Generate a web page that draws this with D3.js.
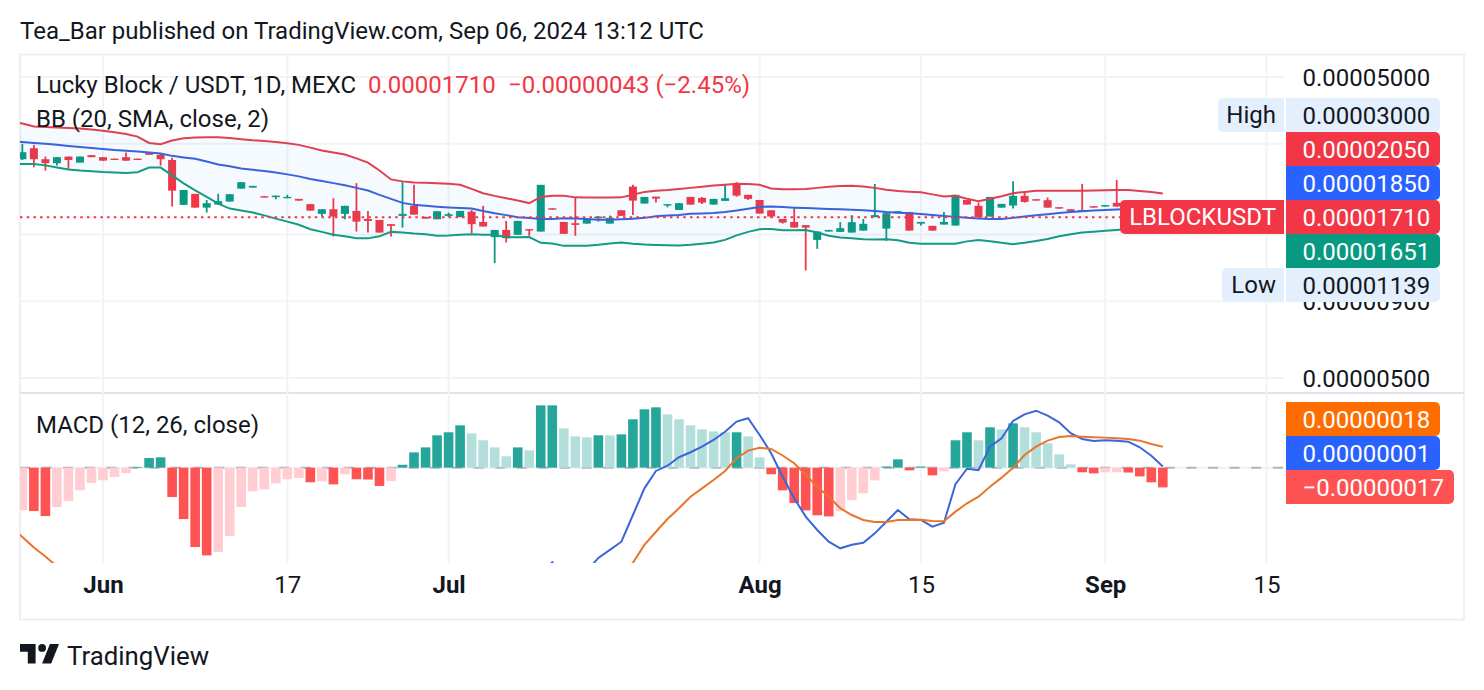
<!DOCTYPE html>
<html>
<head>
<meta charset="utf-8">
<script src="https://cdn.jsdelivr.net/npm/d3@7"></script>
<style>
html,body{margin:0;padding:0;background:#fff}
svg{display:block}
text{font-family:Roboto,sans-serif;fill:#131722}
</style>
</head>
<body>
<svg id="chart" width="1484" height="690"></svg>
<script>
// Prices are held in units of 0.00000001 USDT. One row per daily bar, from 25 May to 6 Sep 2024.
const opens = [2666,2900,2666,2586,2720,2597,2750,2708,2678,2708,2678,2792,2756,2650,1880,2045,1841,1884,1928,2129,2146,2009,1994,1978,1968,1890,1755,1818,1755,1795,1688,1675,1622,1728,1866,1715,1684,1728,1711,1785,1650,1469,1552,1495,1561,1533,1832,1650,1634,1629,1697,1629,1804,2162,1899,2002,1870,1808,1998,1983,1884,1938,2191,2030,1952,1804,1688,1650,1610,1438,1533,1529,1521,1544,1711,1568,1764,1781,1629,1601,1617,1605,1952,1866,1719,1841,1870,2014,1963,1948,1847,1818,1808,1861,1856,1909,1810,1800,1790,1753];
const highs = [3000,2975,2720,2708,2720,2720,2750,2708,2678,2804,2678,2792,2792,2697,2107,2045,1952,2045,2040,2236,2174,2009,2018,2030,1968,1890,1818,1978,1866,2220,1795,1675,1622,2246,2191,1715,1791,1772,1795,1808,1866,1552,1663,1663,1561,2191,1832,1650,1988,1688,1728,1732,1804,2191,1998,2002,1890,1904,1998,1998,1968,2191,2236,2030,1952,1804,1688,1832,1610,1533,1552,1647,1738,1688,2208,1764,1791,1781,1650,1601,1781,2030,1952,1913,1998,1894,2253,2081,1963,1988,1847,1818,2208,1861,1876,2275,1815,1805,1800,1790];
const lows = [2650,2508,2442,2539,2455,2597,2708,2636,2650,2636,2650,2756,2539,1856,1880,1841,1772,1884,1928,2129,2146,1988,1963,1978,1942,1799,1719,1476,1684,1533,1521,1521,1476,1580,1745,1692,1684,1711,1711,1514,1593,1204,1410,1495,1484,1533,1812,1506,1484,1629,1654,1629,1728,1741,1899,1913,1846,1808,1884,1894,1884,1938,2002,1952,1759,1706,1629,1580,1139,1343,1533,1529,1521,1544,1711,1427,1764,1544,1605,1544,1617,1605,1884,1711,1719,1841,1827,1913,1942,1841,1827,1791,1791,1841,1856,1856,1795,1785,1745,1700];
const closes = [2813,2666,2586,2708,2650,2720,2708,2636,2650,2636,2650,2756,2666,2096,2107,1841,1904,1933,2040,2236,2174,1988,2018,1998,1942,1799,1818,1719,1866,1654,1663,1521,1601,1755,1745,1692,1791,1751,1795,1622,1593,1552,1457,1663,1544,2191,1812,1506,1613,1688,1719,1702,1728,1942,1998,1972,1890,1904,1884,1913,1968,1978,2018,1968,1759,1719,1642,1580,1580,1533,1552,1573,1647,1626,1738,1764,1791,1544,1650,1544,1650,2030,1884,1711,1998,1894,2014,1923,1942,1841,1827,1791,1791,1841,1876,1856,1800,1790,1753,1710];

// Bollinger Bands; each list opens one bar before the first candle.
const bbUpper = [3571,3505,3426,3413,3399,3386,3373,3346,3316,3277,3235,3169,3020,2991,3077,3130,3149,3154,3154,3137,3108,3083,3065,3043,3011,2975,2913,2848,2808,2762,2682,2597,2446,2284,2250,2230,2225,2220,2208,2191,2124,2056,2014,1978,1945,1906,1998,2014,2014,1991,1988,1988,1988,1991,2030,2076,2095,2107,2124,2141,2161,2179,2194,2208,2204,2191,2132,2120,2119,2124,2141,2161,2171,2174,2162,2141,2110,2092,2079,2070,2037,2003,2017,1971,1933,1971,2009,2056,2076,2096,2096,2096,2096,2096,2099,2102,2107,2107,2092,2073,2050];
const bbBasis = [3065,3043,3020,2998,2975,2952,2929,2907,2884,2861,2844,2827,2808,2783,2735,2703,2676,2621,2562,2527,2484,2459,2437,2410,2374,2338,2293,2258,2220,2183,2141,2099,2030,1968,1909,1880,1866,1854,1844,1837,1828,1795,1764,1738,1711,1699,1688,1688,1696,1695,1688,1678,1678,1684,1691,1702,1722,1734,1741,1755,1761,1768,1781,1801,1825,1851,1856,1848,1840,1834,1828,1822,1817,1811,1804,1795,1781,1771,1764,1752,1741,1728,1715,1704,1695,1688,1688,1702,1719,1735,1751,1768,1779,1789,1801,1808,1814,1822,1828,1837,1850];
const bbLower = [2572,2572,2568,2543,2504,2465,2446,2433,2419,2410,2397,2414,2500,2500,2356,2216,2099,1998,1899,1827,1801,1772,1735,1692,1654,1614,1561,1529,1495,1478,1457,1455,1478,1529,1521,1509,1501,1484,1487,1497,1502,1495,1495,1467,1467,1469,1406,1400,1374,1374,1374,1385,1399,1409,1396,1388,1383,1380,1378,1385,1396,1409,1438,1489,1529,1561,1564,1547,1547,1552,1521,1484,1464,1455,1446,1443,1446,1433,1406,1396,1396,1396,1396,1422,1438,1424,1406,1392,1406,1427,1449,1478,1501,1521,1531,1541,1552,1564,1577,1614,1651];

// MACD histogram and lines in the same price unit; the two line lists also open one bar early.
const macdHist = [-36.8,-37.4,-41.7,-33.9,-28.7,-19.5,-13.2,-10.9,-8,-4.6,0.6,8.3,8.9,-25.3,-44.3,-68.4,-75.6,-72.7,-58.9,-33.9,-20.4,-18.7,-13.5,-10,-8.9,-12.6,-11.8,-14.4,-5.7,-10,-10.2,-15.8,-11.6,2.5,13.2,17.5,27.9,30.5,36.5,29.6,23.6,17.5,9.8,17.5,14.9,53.7,53.7,33.9,27,26.1,27.9,27.8,28.7,41.7,50.3,52,46,41.7,36.5,33,31.3,30.5,30.5,27,8.9,-5.7,-19.5,-30.5,-36.8,-41,-42,-37.6,-28,-22,-11,1,7.2,-2.3,1,-6.6,-3.2,23.6,30.5,23.6,34.8,33,38.2,34.8,30.5,21,11.5,2.9,-4,-4.9,-4,-3.9,-4.2,-7.5,-12.6,-17];
const macdLine = [-90,-96.5,-106,-118,-119,-119,-114,-109,-109,-108,-106,-101,-93,-91,-128,-154,-188,-211,-223,-222,-204,-195,-199,-197,-196,-197,-203,-204,-208,-201,-206,-207,-215,-212,-197,-183,-175,-158,-148,-134,-133,-133,-134,-139,-128,-128,-92,-81.5,-94,-94,-89,-77.8,-70.9,-63.8,-40.8,-17.8,-2.8,1.7,9,13.3,18.1,23.9,31,39.7,42.6,28.2,12.4,-7.8,-26.4,-42.2,-53.7,-63.8,-69.5,-66.4,-64.7,-56.6,-46.6,-36.5,-44.5,-45.1,-50.9,-47.4,-14.3,-0.9,-2.2,18.1,25.3,40.3,46,49.1,44.8,39.1,29.7,24.7,23,23.6,23.3,22.4,17.6,10.3,1];
const macdSignal = [-51,-59.7,-68.8,-76.6,-85,-90,-94,-96,-98,-100,-101,-102,-101,-100,-103,-110,-120,-135,-150,-163,-170,-175,-180,-183,-186,-188,-190,-192,-194,-195,-196,-197,-199,-200,-199,-196,-192,-186,-179,-171,-163,-157,-152,-149,-146,-143,-146,-135,-128,-121,-115,-106,-99,-92,-82,-66.6,-55.2,-44.2,-35,-25,-17.8,-10.6,-2.8,8.1,14.7,17.2,16.1,10.5,3.8,-6.3,-16.4,-25,-35,-40.8,-45.1,-46.8,-46.8,-45.1,-45.1,-44.8,-45.9,-46.2,-37.9,-30.7,-25,-16.4,-8.6,0,10.9,18.1,23.3,26.5,27.3,26.7,26.2,25.9,25.3,24.7,23.3,20.4,18];

// Axis ticks
const priceGrid = [5000,3000,1500,900,500];
const priceTicks = [5000,900,500];
const timeTickBars = [7,23,37,64,78,94,108];
const timeTickLabels = ["Jun","17","Jul","Aug","15","Sep","15"];
const boldTimeTicks = ["Jun","Jul","Aug","Sep"];
const sessionHigh = 3000, sessionLow = 1139;

const UNIT = 1e8;
const fmt = v => (v < 0 ? "\u2212" : "") + (Math.abs(v) / UNIT).toFixed(8);

const colors = {
  up:"#089981", down:"#F23645", basis:"#2962FF", orange:"#FF6D00",
  lineUpper:"#E0404F", lineBasis:"#3A62DB", lineLower:"#159A84", lineMacd:"#3A66D8", lineSignal:"#E9752A",
  grid:"#F2F3F5", border:"#EEEFF2", divider:"#E0E3EB", tag:"#E3EFFD", text:"#131722",
  histUp:"#26A69A", histUpLight:"#B2DFDB", histDown:"#FF5252", histDownLight:"#FFCDD2"
};

const pane = {left:20, right:1284, top:55, priceBottom:392, macdTop:395, macdBottom:563};

const x = d3.scaleLinear().domain([7,108]).range([103,1266.5]);
const y = d3.scaleLog().domain([5000,500]).range([77,378]);
const yMacd = d3.scaleLinear().domain([-82.16,63.5]).range([563,394]);

const svg = d3.select("#chart");
const defs = svg.append("defs");
defs.append("clipPath").attr("id","clipPrice").append("rect")
  .attr("x",pane.left).attr("y",pane.top).attr("width",pane.right-pane.left).attr("height",pane.priceBottom-pane.top);
defs.append("clipPath").attr("id","clipMacd").append("rect")
  .attr("x",pane.left).attr("y",pane.macdTop).attr("width",pane.right-pane.left).attr("height",pane.macdBottom-pane.macdTop);

// Header
svg.append("text").attr("x",20).attr("y",39).style("font-size","24px")
  .text("Tea_Bar published on TradingView.com, Sep 06, 2024 13:12 UTC");

// Frame and pane divider
svg.append("rect").attr("x",20).attr("y",54.5).attr("width",1444).attr("height",565)
  .attr("fill","none").attr("stroke",colors.border).attr("stroke-width",2);
svg.append("line").attr("x1",20).attr("x2",1464).attr("y1",393).attr("y2",393)
  .attr("stroke",colors.divider).attr("stroke-width",2);

// Grid
const grid = svg.append("g").attr("stroke",colors.grid).attr("stroke-width",2);
grid.selectAll(".v").data(timeTickBars).join("line")
  .attr("x1",d=>x(d)).attr("x2",d=>x(d)).attr("y1",pane.top).attr("y2",pane.macdBottom);
grid.selectAll(".h").data(priceGrid).join("line")
  .attr("x1",pane.left).attr("x2",pane.right).attr("y1",d=>y(d)).attr("y2",d=>y(d));

// Candles
const price = svg.append("g").attr("clip-path","url(#clipPrice)");
const candles = closes.map((c,i)=>({i,o:opens[i],h:highs[i],l:lows[i],c}));
const candleColor = d => d.c >= d.o ? colors.up : colors.down;
price.append("g").selectAll("line").data(candles).join("line")
  .attr("x1",d=>x(d.i)).attr("x2",d=>x(d.i))
  .attr("y1",d=>y(d.h)).attr("y2",d=>y(d.l))
  .attr("stroke",candleColor).attr("stroke-width",1.8);
price.append("g").selectAll("rect").data(candles).join("rect")
  .attr("x",d=>x(d.i)-4).attr("width",8)
  .attr("y",d=>y(Math.max(d.o,d.c)))
  .attr("height",d=>Math.max(1,Math.abs(y(d.o)-y(d.c))))
  .attr("fill",candleColor);

// Bollinger Bands
const bandIdx = bbUpper.map((_,k)=>k-1);
price.append("path").datum(bandIdx)
  .attr("fill","#2196F3").attr("fill-opacity",0.05)
  .attr("d",d3.area().x(i=>x(i)).y0(i=>y(bbUpper[i+1])).y1(i=>y(bbLower[i+1])));
[[bbUpper,colors.lineUpper],[bbBasis,colors.lineBasis],[bbLower,colors.lineLower]].forEach(([series,color])=>{
  price.append("path").datum(bandIdx).attr("fill","none").attr("stroke",color).attr("stroke-width",2)
    .attr("d",d3.line().x(i=>x(i)).y(i=>y(series[i+1])));
});

// Last price line
const lastClose = closes[closes.length-1], prevClose = closes[closes.length-2];
svg.append("line").attr("x1",pane.left).attr("x2",pane.right)
  .attr("y1",y(lastClose)).attr("y2",y(lastClose))
  .attr("stroke",colors.down).attr("stroke-width",2).attr("stroke-dasharray","2.5 4.2");

// MACD pane
const macd = svg.append("g").attr("clip-path","url(#clipMacd)");
macd.append("line").attr("x1",pane.left).attr("x2",pane.right)
  .attr("y1",yMacd(0)).attr("y2",yMacd(0)).attr("stroke","#F0F1F4").attr("stroke-width",2);
macd.append("line").attr("x1",pane.left).attr("x2",pane.right)
  .attr("y1",yMacd(0)).attr("y2",yMacd(0)).attr("stroke","#B2B5BE").attr("stroke-width",2).attr("stroke-dasharray","10 11.6");
const histColor = (v,i) => {
  if (i===0) return colors.histDownLight;
  const prev = macdHist[i-1];
  if (v>=0) return v>=prev ? colors.histUp : colors.histUpLight;
  return v<prev ? colors.histDown : colors.histDownLight;
};
macd.append("g").selectAll("rect").data(macdHist).join("rect")
  .attr("x",(v,i)=>x(i)-4.8).attr("width",9.6)
  .attr("y",v=>Math.min(yMacd(v),yMacd(0)))
  .attr("height",v=>Math.abs(yMacd(v)-yMacd(0)))
  .attr("fill",histColor);
[[macdLine,colors.lineMacd],[macdSignal,colors.lineSignal]].forEach(([series,color])=>{
  macd.append("path").datum(bandIdx).attr("fill","none").attr("stroke",color).attr("stroke-width",2)
    .attr("d",d3.line().x(i=>x(i)).y(i=>yMacd(series[i+1])));
});

// Price axis
const axisY = svg.append("g").attr("transform","translate(1302.5,1)")
  .call(d3.axisRight(y).tickValues(priceTicks).tickSize(0).tickPadding(0).tickFormat(fmt));
axisY.select(".domain").remove();
axisY.selectAll("text").style("font-size","24px").style("font-family","Roboto").attr("fill",colors.text);

// Time axis
const axisX = svg.append("g").attr("transform","translate(0,576)")
  .call(d3.axisBottom(x).tickValues(timeTickBars).tickSize(0).tickPadding(0)
    .tickFormat((d,i)=>timeTickLabels[i]));
axisX.select(".domain").remove();
axisX.selectAll("text").style("font-size","24px").style("font-family","Roboto")
  .style("font-weight",(d,i)=>boldTimeTicks.includes(timeTickLabels[i])?700:400).attr("fill",colors.text);

// Value tags on the price scale
const tagRight = (y0,h,w,color,label,textColor) => {
  const g = svg.append("g");
  g.append("path").attr("fill",color)
    .attr("d",`M1286 ${y0}H${1286+w-5}a5 5 0 0 1 5 5V${y0+h-5}a5 5 0 0 1 -5 5H1286Z`);
  g.append("text").attr("x",1302.5).attr("y",y0+h/2+8.5).style("font-size","24px").style("fill",textColor).text(label);
};
const tagLeft = (y0,h,xLeft,color,label,textColor) => {
  const g = svg.append("g");
  g.append("path").attr("fill",color)
    .attr("d",`M1284 ${y0}H${xLeft+5}a5 5 0 0 0 -5 5V${y0+h-5}a5 5 0 0 0 5 5H1284Z`);
  g.append("text").attr("x",1276).attr("text-anchor","end").attr("y",y0+h/2+8).style("font-size","24px").style("fill",textColor).text(label);
};
const last = a => a[a.length-1];
tagLeft(98,34,1218,colors.tag,"High",colors.text);
tagRight(98,34,154,colors.tag,fmt(sessionHigh),colors.text);
tagRight(132,34,154,colors.down,fmt(last(bbUpper)),"#fff");
tagRight(166,34,154,colors.basis,fmt(last(bbBasis)),"#fff");
tagLeft(200,34,1120,colors.down,"LBLOCKUSDT","#fff");
tagRight(200,34,154,colors.down,fmt(lastClose),"#fff");
tagRight(234,34,154,colors.up,fmt(last(bbLower)),"#fff");
tagLeft(268,34,1222,colors.tag,"Low",colors.text);
tagRight(268,34,154,colors.tag,fmt(sessionLow),colors.text);
tagRight(402,34,154,colors.orange,fmt(last(macdSignal)),"#fff");
tagRight(436,34,154,colors.basis,fmt(last(macdLine)),"#fff");
tagRight(470,34,168,colors.histDown,fmt(last(macdHist)),"#fff");

// Legends
const change = lastClose-prevClose;
const legend = svg.append("g").style("font-size","24px");
legend.append("text").attr("x",36).attr("y",93).text("Lucky Block / USDT, 1D, MEXC");
legend.append("text").attr("x",368).attr("y",93).style("fill",colors.down).text(fmt(lastClose));
legend.append("text").attr("x",508).attr("y",93).style("fill",colors.down)
  .text(`${fmt(change)} (\u2212${(Math.abs(change)/prevClose*100).toFixed(2)}%)`);
legend.append("text").attr("x",36).attr("y",127).text("BB (20, SMA, close, 2)");
legend.append("text").attr("x",36).attr("y",433).text("MACD (12, 26, close)");

// Brand mark
const brand = svg.append("g");
brand.append("path").attr("fill",colors.text)
  .attr("transform","translate(17.4,636.2) scale(1.3)")
  .attr("d","M14 6H2v6h6v9h6V6Zm12 15h-7l6-15h7l-6 15Zm-7-9a3 3 0 1 0 0-6 3 3 0 0 0 0 6Z");
brand.append("text").attr("x",67).attr("y",665).style("font-size","25.8px").text("TradingView");
</script>
</body>
</html>
